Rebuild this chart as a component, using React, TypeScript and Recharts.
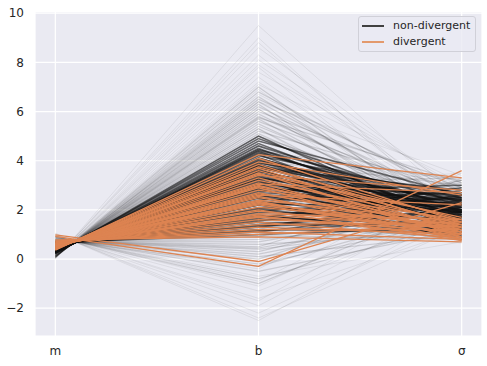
import { LineChart, Line, XAxis, YAxis, CartesianGrid, Legend } from 'recharts'

// parallel coordinates: each trace is [m, b, σ]
const axisNames = ['m', 'b', 'σ']
const yTicks = [-2, 0, 2, 4, 6, 8, 10]

type Trace = [number, number, number]

// dense non-divergent traces
const coreLines: Trace[] = [
  [0.68, 1.0, 1.3], [0.66, 1.1, 2.1], [0.7, 1.15, 1.6], [0.65, 1.2, 1.1], [0.64, 1.3, 2.4],
  [0.67, 1.35, 1.5], [0.63, 1.4, 1.9], [0.62, 1.5, 1.2], [0.6, 1.55, 2.6], [0.64, 1.6, 1.7],
  [0.59, 1.7, 1.4], [0.61, 1.75, 2.2], [0.57, 1.8, 1.0], [0.58, 1.9, 1.8], [0.56, 1.95, 2.5],
  [0.55, 2.0, 1.3], [0.57, 2.05, 2.0], [0.53, 2.1, 1.6], [0.54, 2.2, 2.3], [0.52, 2.25, 1.1],
  [0.55, 2.3, 1.9], [0.51, 2.35, 1.5], [0.5, 2.4, 2.7], [0.52, 2.5, 1.2], [0.49, 2.55, 2.1],
  [0.48, 2.6, 1.7], [0.5, 2.65, 1.4], [0.47, 2.7, 2.4], [0.46, 2.8, 1.9], [0.48, 2.85, 1.1],
  [0.45, 2.9, 2.2], [0.44, 2.95, 1.6], [0.46, 3.0, 1.3], [0.43, 3.05, 2.6], [0.42, 3.1, 1.8],
  [0.44, 3.15, 2.0], [0.41, 3.2, 1.2], [0.4, 3.3, 2.3], [0.42, 3.35, 1.5], [0.39, 3.4, 1.9],
  [0.38, 3.45, 2.5], [0.4, 3.5, 1.4], [0.37, 3.55, 2.1], [0.36, 3.6, 1.7], [0.38, 3.65, 1.1],
  [0.35, 3.7, 2.4], [0.34, 3.75, 1.6], [0.36, 3.8, 2.0], [0.33, 3.85, 1.3], [0.32, 3.9, 2.7],
  [0.34, 3.95, 1.8], [0.31, 4.0, 2.2], [0.3, 4.05, 1.5], [0.32, 4.1, 1.9], [0.29, 4.2, 2.5],
  [0.28, 4.25, 1.2], [0.3, 4.3, 2.1], [0.27, 4.4, 1.7], [0.26, 4.45, 2.3], [0.28, 4.5, 1.4],
  [0.25, 4.6, 2.0], [0.24, 4.7, 1.6], [0.26, 4.8, 2.6], [0.23, 4.9, 1.9], [0.22, 5.0, 1.3],
  [0.6, 1.65, 2.9], [0.47, 2.75, 3.0], [0.35, 3.7, 2.8], [0.52, 2.2, 0.9], [0.42, 3.25, 0.95],
  [0.45, 3.02, 1.75], [0.41, 3.28, 2.15], [0.38, 3.58, 1.85], [0.36, 3.82, 2.35], [0.5, 2.48, 1.95],
  [0.33, 4.12, 1.65], [0.44, 2.88, 2.45], [0.39, 3.48, 1.45], [0.31, 4.35, 1.95], [0.47, 2.62, 2.25],
]

// wider spread
const midLines: Trace[] = [
  [0.85, -0.5, 1.2], [0.8, -0.3, 2.0], [0.83, -0.2, 1.6], [0.78, 0.0, 2.6], [0.8, 0.1, 1.0],
  [0.75, 0.2, 1.8], [0.77, 0.3, 2.3], [0.73, 0.4, 1.4], [0.75, 0.5, 3.0], [0.71, 0.6, 1.1],
  [0.72, 0.7, 2.1], [0.7, 0.8, 1.6], [0.69, 0.9, 2.8], [0.71, 0.95, 0.8], [0.66, 1.2, 3.2],
  [0.62, 1.6, 0.8], [0.57, 2.1, 3.1], [0.5, 2.6, 0.75], [0.45, 3.1, 3.3], [0.4, 3.6, 0.85],
  [0.36, 4.0, 3.0], [0.3, 4.6, 0.9], [0.24, 5.0, 2.2], [0.22, 5.1, 1.5], [0.2, 5.2, 2.8],
  [0.19, 5.3, 1.1], [0.18, 5.4, 2.0], [0.16, 5.5, 1.7], [0.17, 5.6, 2.5], [0.14, 5.7, 1.3],
  [0.15, 5.8, 2.2], [0.13, 5.9, 1.8], [0.12, 6.0, 2.9], [0.11, 6.1, 1.4], [0.1, 6.2, 2.3],
  [0.11, 6.3, 1.0], [0.09, 6.4, 2.0], [0.08, 6.5, 2.7], [0.1, 6.6, 1.6], [0.07, 6.8, 2.4],
  [0.06, 7.0, 1.2], [0.27, 4.4, 3.2], [0.33, 3.9, 0.75], [0.55, 2.3, 2.9], [0.65, 1.3, 0.9],
  [0.88, -0.8, 1.5], [0.9, -1.0, 2.4], [0.74, 0.45, 1.9], [0.58, 1.85, 3.2], [0.14, 5.75, 3.1],
]

// faint extremes
const tailLines: Trace[] = [
  [0.0, 9.5, 2.1], [0.02, 9.0, 1.4], [0.05, 8.6, 2.6], [0.04, 8.3, 1.8], [0.06, 7.9, 2.2],
  [0.05, 7.8, 1.2], [0.07, 7.6, 2.9], [0.06, 7.4, 1.6], [0.08, 7.2, 2.0], [0.07, 7.1, 3.1],
  [0.09, 6.9, 1.0], [0.08, 6.7, 2.5], [0.93, -1.3, 1.9], [0.95, -1.6, 1.2], [0.97, -1.9, 2.4],
  [1.0, -2.2, 1.6], [1.03, -2.5, 2.0], [0.92, -1.1, 2.8], [0.88, -0.7, 0.7], [0.9, -0.9, 3.3],
  [0.85, -0.4, 3.5], [0.1, 6.4, 3.4], [0.2, 5.3, 0.7], [0.45, 2.9, 3.5], [0.6, 1.5, 0.65],
  [0.12, 6.1, 0.8], [0.04, 8.1, 2.7], [0.03, 8.8, 1.7], [0.96, -1.7, 2.9], [1.05, -2.4, 1.3],
]

const divergentLines: Trace[] = [
  [0.36, 4.25, 3.3], [0.38, 4.1, 1.5], [0.4, 3.95, 2.6], [0.39, 3.85, 1.3], [0.41, 3.75, 1.6],
  [0.42, 3.7, 1.1], [0.43, 3.6, 1.4], [0.44, 3.5, 0.9], [0.42, 3.45, 1.7], [0.45, 3.4, 2.8],
  [0.46, 3.3, 1.2], [0.47, 3.2, 1.5], [0.48, 3.1, 1.0], [0.46, 3.05, 2.7], [0.49, 2.95, 1.3],
  [0.5, 2.9, 0.8], [0.51, 2.8, 1.6], [0.52, 2.7, 1.1], [0.5, 2.65, 1.4], [0.53, 2.55, 0.9],
  [0.54, 2.5, 1.2], [0.55, 2.4, 1.5], [0.56, 2.35, 0.8], [0.57, 2.25, 1.3], [0.55, 2.2, 1.0],
  [0.58, 2.1, 1.4], [0.6, 2.0, 0.75], [0.59, 1.95, 1.2], [0.61, 1.85, 1.6], [0.62, 1.75, 0.9],
  [0.63, 1.7, 1.1], [0.64, 1.6, 1.3], [0.65, 1.5, 0.85], [0.66, 1.4, 1.5], [0.68, 1.3, 1.0],
  [0.7, 1.2, 1.2], [0.72, 1.1, 0.8], [0.74, 1.0, 1.4], [0.78, 0.9, 0.7], [0.98, -0.1, 2.3],
  [0.92, -0.3, 3.6], [0.47, 3.0, 1.1], [0.52, 2.6, 2.2], [0.56, 2.3, 1.0], [0.6, 1.8, 1.3],
]

const groups = [
  { key: 't', lines: tailLines, color: '#111111', opacity: 0.07, width: 1 },
  { key: 'm', lines: midLines, color: '#111111', opacity: 0.15, width: 1.2 },
  { key: 'c', lines: coreLines, color: '#111111', opacity: 0.6, width: 1.6 },
  { key: 'd', lines: divergentLines, color: '#dd8452', opacity: 1, width: 1.3 },
]

const rows = axisNames.map((_, k) => {
  const row: Record<string, number> = { x: k }
  groups.forEach((g) => {
    g.lines.forEach((l, i) => {
      row[`${g.key}${i}`] = l[k]
    })
  })
  return row
})

const font = '"DejaVu Sans", sans-serif'
const tickStyle = { fontSize: 12, fill: '#262626', fontFamily: font }

function LegendBox() {
  const items = [
    { label: 'non-divergent', color: '#404040' },
    { label: 'divergent', color: '#e3996c' },
  ]
  return (
    <div
      style={{
        background: 'rgba(234,234,242,0.8)',
        border: '1px solid #d0d0d8',
        borderRadius: 3,
        padding: '1px 4px 1px 3px',
        fontFamily: font,
        fontSize: 11,
        color: '#262626',
        lineHeight: '16px',
        whiteSpace: 'nowrap',
      }}
    >
      {items.map((it) => (
        <div key={it.label} style={{ display: 'flex', alignItems: 'center' }}>
          <span
            style={{
              display: 'inline-block',
              width: 22,
              height: 2,
              background: it.color,
              marginRight: 9,
            }}
          />
          {it.label}
        </div>
      ))}
    </div>
  )
}

export default function App() {
  return (
    <div style={{ position: 'absolute', left: 0, top: 0 }}>
      <LineChart width={487} height={366} data={rows} margin={{ top: 12, right: 5, left: 0, bottom: 0 }}>
        <CartesianGrid fill="#eaeaf2" stroke="#ffffff" strokeWidth={1.2} />
        <XAxis
          dataKey="x"
          type="number"
          domain={[-0.1, 2.1]}
          ticks={[0, 1, 2]}
          tickFormatter={(v: number) => axisNames[v]}
          tick={tickStyle}
          tickLine={false}
          axisLine={false}
          tickSize={6}
          tickMargin={4}
          height={30}
          allowDataOverflow
        />
        <YAxis
          type="number"
          domain={[-3.13, 10.05]}
          ticks={yTicks}
          tickFormatter={(v: number) => (v < 0 ? `\u2212${Math.abs(v)}` : `${v}`)}
          tick={tickStyle}
          tickLine={false}
          axisLine={false}
          tickSize={6}
          tickMargin={5}
          width={35}
          allowDataOverflow
        />
        <Legend
          layout="vertical"
          align="center"
          verticalAlign="middle"
          wrapperStyle={{ top: 16, left: 358, width: 118 }}
          content={() => <LegendBox />}
        />
        {groups.map((g) =>
          g.lines.map((_, i) => (
            <Line
              key={`${g.key}${i}`}
              dataKey={`${g.key}${i}`}
              type="linear"
              stroke={g.color}
              strokeOpacity={g.opacity}
              strokeWidth={g.width}
              dot={false}
              activeDot={false}
              legendType="none"
              isAnimationActive={false}
            />
          ))
        )}
      </LineChart>
    </div>
  )
}
